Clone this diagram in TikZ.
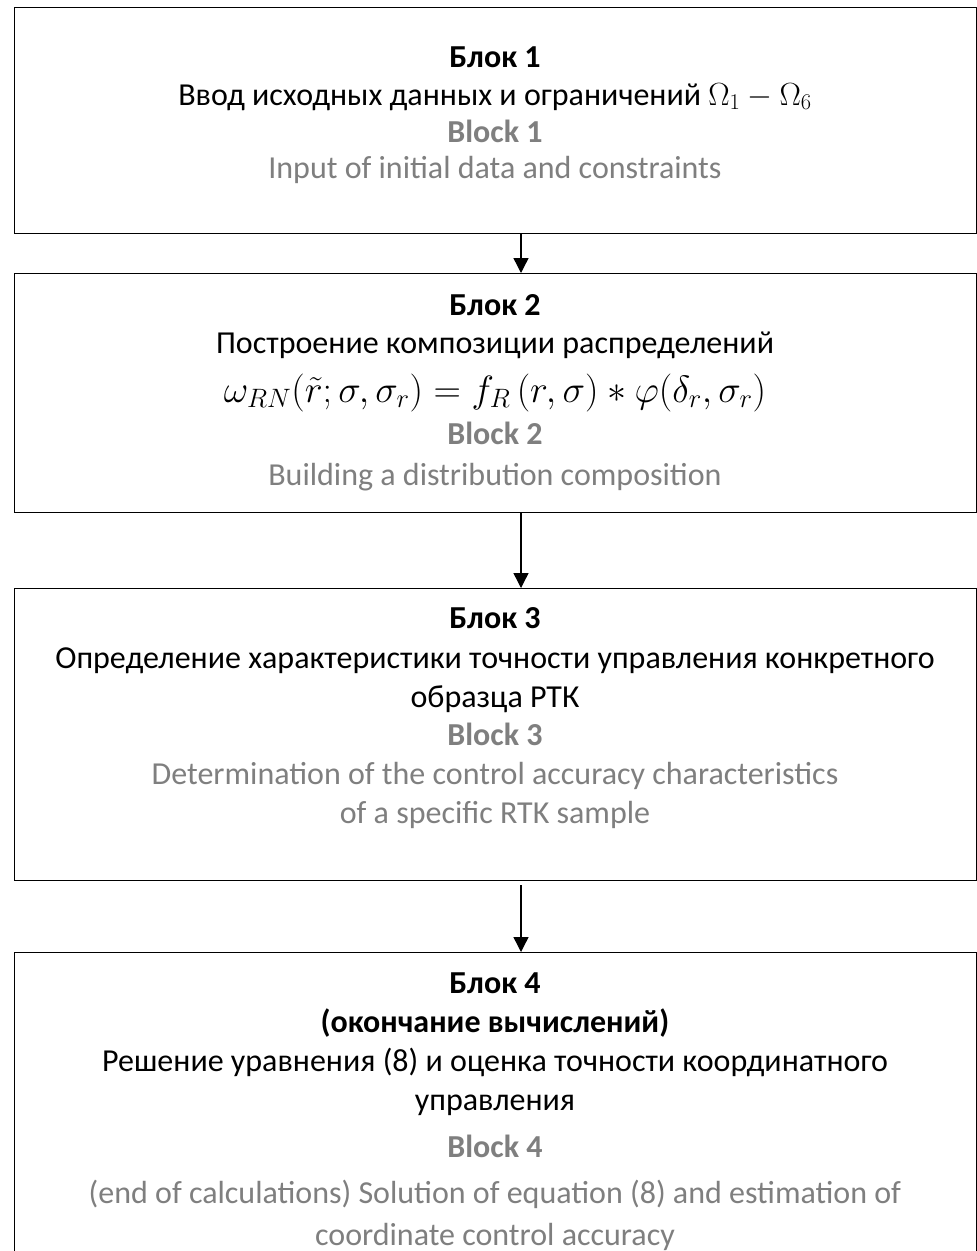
\RequirePackage{fix-cm}
\documentclass[tikz,border=0pt]{standalone}
\usepackage{fontspec}
\setmainfont{Carlito}
\usetikzlibrary{arrows.meta}
\definecolor{gtext}{HTML}{7F7F7F}
\tikzset{
  boxst/.style={draw=black, line width=1.4pt, rectangle, inner sep=0pt, minimum width=962.5pt, anchor=north west},
  txt/.style={font=\fontsize{32}{39}\selectfont, anchor=base, inner sep=0pt},
  hdr/.style={txt, font=\fontsize{32}{39}\selectfont\bfseries},
  ghdr/.style={hdr, text=gtext},
  gtxt/.style={txt, text=gtext},
  frm/.style={txt, font=\fontsize{38}{44}\selectfont},
  arr/.style={line width=1.4pt, -{Triangle[length=15pt,width=15pt]}},
}
\begin{document}
\begin{tikzpicture}[x=1pt,y=-1pt]
\useasboundingbox (0,0) rectangle (977,1251);
\clip (0,0) rectangle (977,1251);
\fill[white] (0,0) rectangle (977,1251);
% boxes
\node[boxst, minimum height=226pt] (b1) at (13.5,7) {};
\node[boxst, minimum height=239pt] (b2) at (13.5,273) {};
\node[boxst, minimum height=292pt] (b3) at (13.5,588) {};
\node[boxst, minimum height=340pt] (b4) at (13.5,952) {};
\coordinate (ax) at (521,0);
% arrows
\draw[arr] (b1.south -| ax) -- (b2.north -| ax);
\draw[arr] (b2.south -| ax) -- (b3.north -| ax);
\draw[arr, shorten <=4pt] (b3.south -| ax) -- (b4.north -| ax);
% block 1
\node[hdr]  (l11) at (495,67)  {Блок 1};
\node[txt]  (l12) at (495,105) {Ввод исходных данных и ограничений $\Omega_1-\Omega_6$};
\node[ghdr] (l13) at (495,142) {Block 1};
\node[gtxt] (l14) at (495,178) {Input of initial data and constraints};
% block 2
\node[hdr]  (l21) at (495,315) {Блок 2};
\node[txt]  (l22) at (495,353) {Построение композиции распределений};
\node[frm]  (l23) at (495,402) {$\omega_{RN}(\tilde r;\sigma,\sigma_r)=f_R\,(r,\sigma)\ast\varphi(\delta_r,\sigma_r)$};
\node[ghdr] (l24) at (495,444) {Block 2};
\node[gtxt] (l25) at (495,485) {Building a distribution composition};
% block 3
\node[hdr]  (l31) at (495,628) {Блок 3};
\node[txt]  (l32) at (495,668) {Определение характеристики точности управления конкретного};
\node[txt]  (l33) at (495,707) {образца РТК};
\node[ghdr] (l34) at (495,745) {Block 3};
\node[gtxt] (l35) at (495,784) {Determination of the control accuracy characteristics};
\node[gtxt] (l36) at (495,823) {of a specific RTK sample};
% block 4
\node[hdr]  (l41) at (495,993)  {Блок 4};
\node[hdr]  (l42) at (495,1032) {(окончание вычислений)};
\node[txt]  (l43) at (495,1071) {Решение уравнения (8) и оценка точности координатного};
\node[txt]  (l44) at (495,1110) {управления};
\node[ghdr] (l45) at (495,1157) {Block 4};
\node[gtxt] (l46) at (495,1203) {(end of calculations) Solution of equation (8) and estimation of};
\node[gtxt] (l47) at (495,1245) {coordinate control accuracy};
\end{tikzpicture}
\end{document}
